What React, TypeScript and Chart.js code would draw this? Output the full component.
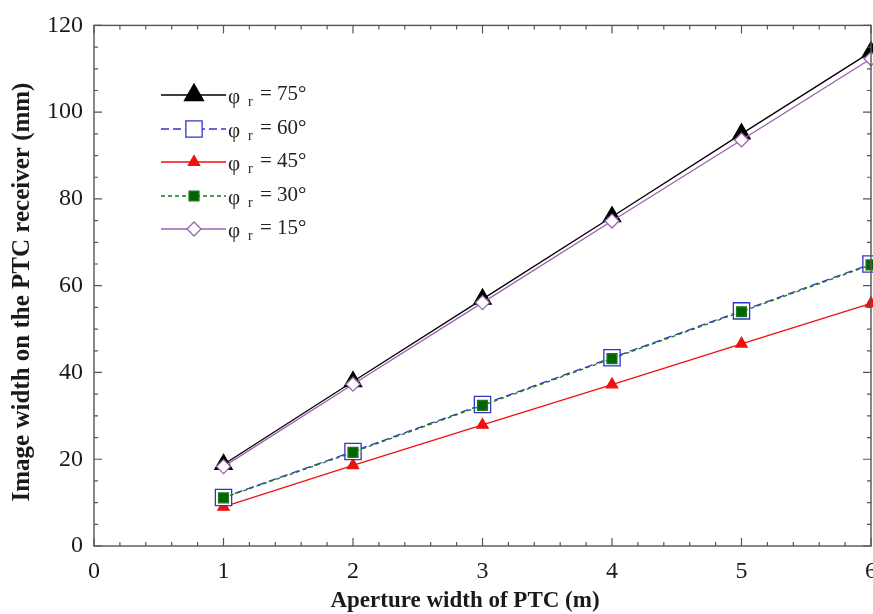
import React, { useEffect, useRef } from 'react';
import { Chart, registerables } from 'chart.js';

Chart.register(...registerables);

// ---- data ----
const xValues = [1, 2, 3, 4, 5, 6];
const seriesNames = ['75°', '60°', '45°', '30°', '15°'];
const phi75 = [18.8, 37.9, 56.9, 75.9, 95.0, 113.9];
const phi60 = [11.2, 21.8, 32.6, 43.4, 54.2, 65.0];
const phi45 = [9.0, 18.6, 27.9, 37.2, 46.6, 55.9];
const phi30 = [11.1, 21.6, 32.4, 43.2, 54.0, 64.8];
const phi15 = [18.3, 37.3, 56.1, 74.9, 93.6, 112.3];
const xTickLabels = ['0', '1', '2', '3', '4', '5', '6'];
const yTickLabels = ['0', '20', '40', '60', '80', '100', '120'];
const xTitle = 'Aperture width of PTC (m)';
const yTitle = 'Image width on the PTC receiver (mm)';

const CANVAS_W = 892;
const CANVAS_H = 614;
const SERIF = '"Liberation Serif", "Times New Roman", serif';

type Style = {
  color: string;
  dash: number[];
  marker: 'triangle' | 'rect' | 'rectRot';
  radius: number;
  fill: string;
  order: number;
};

const styles: Style[] = [
  { color: '#000000', dash: [], marker: 'triangle', radius: 10, fill: '#000000', order: 5 },
  { color: '#3434c8', dash: [8, 4], marker: 'rect', radius: 11.5, fill: '#ffffff', order: 4 },
  { color: '#f01010', dash: [], marker: 'triangle', radius: 6.5, fill: '#f01010', order: 6 },
  { color: '#1d7a1d', dash: [4, 3], marker: 'rect', radius: 7, fill: '#006400', order: 2 },
  { color: '#9a62ac', dash: [], marker: 'rectRot', radius: 7, fill: '#ffffff', order: 1 },
];

const seriesData = [phi75, phi60, phi45, phi30, phi15];

function drawMarker(
  ctx: CanvasRenderingContext2D,
  marker: string,
  x: number,
  y: number,
  r: number,
  fill: string,
  stroke: string
) {
  ctx.save();
  ctx.setLineDash([]);
  ctx.beginPath();
  if (marker === 'triangle') {
    ctx.moveTo(x, y - r);
    ctx.lineTo(x + r * 0.866, y + r * 0.5);
    ctx.lineTo(x - r * 0.866, y + r * 0.5);
    ctx.closePath();
  } else if (marker === 'rect') {
    const s = r * Math.SQRT1_2;
    ctx.rect(x - s, y - s, 2 * s, 2 * s);
  } else {
    ctx.moveTo(x, y - r);
    ctx.lineTo(x + r, y);
    ctx.lineTo(x, y + r);
    ctx.lineTo(x - r, y);
    ctx.closePath();
  }
  ctx.fillStyle = fill;
  ctx.fill();
  ctx.lineWidth = 1.3;
  ctx.strokeStyle = stroke;
  ctx.stroke();
  ctx.restore();
}

const framePlugin = {
  id: 'framePlugin',
  afterDraw(chart: any) {
    const { ctx, chartArea } = chart;
    const xs = chart.scales.x;
    const ys = chart.scales.y;
    const { left, right, top, bottom } = chartArea;
    ctx.save();
    ctx.strokeStyle = '#555555';
    ctx.lineWidth = 1.4;
    ctx.setLineDash([]);
    ctx.strokeRect(left, top, right - left, bottom - top);
    ctx.lineWidth = 1.2;
    // x ticks
    for (let i = 0; i <= 30; i++) {
      const v = i * 0.2;
      const px = xs.getPixelForValue(v);
      const len = i % 5 === 0 ? 8 : 4;
      ctx.beginPath();
      ctx.moveTo(px, bottom);
      ctx.lineTo(px, bottom - len);
      ctx.moveTo(px, top);
      ctx.lineTo(px, top + len);
      ctx.stroke();
    }
    // y ticks
    for (let i = 0; i <= 24; i++) {
      const v = i * 5;
      const py = ys.getPixelForValue(v);
      const len = i % 4 === 0 ? 8 : 4;
      ctx.beginPath();
      ctx.moveTo(left, py);
      ctx.lineTo(left + len, py);
      ctx.moveTo(right, py);
      ctx.lineTo(right - len, py);
      ctx.stroke();
    }

    // axis titles
    ctx.fillStyle = '#1a1a1a';
    ctx.font = `bold 23px ${SERIF}`;
    ctx.textAlign = 'center';
    ctx.textBaseline = 'middle';
    ctx.fillText(xTitle, 465, 601);
    ctx.save();
    ctx.translate(23, 292);
    ctx.rotate(-Math.PI / 2);
    ctx.font = `bold 25px ${SERIF}`;
    ctx.fillText(yTitle, 0, 0);
    ctx.restore();

    // legend
    const lx0 = 161;
    const lx1 = 226;
    const mx = 194;
    const rowY = [95, 129, 162, 196, 229];
    styles.forEach((st, i) => {
      const y = rowY[i];
      ctx.save();
      ctx.strokeStyle = st.color;
      ctx.lineWidth = 1.3;
      ctx.setLineDash(st.dash);
      ctx.beginPath();
      ctx.moveTo(lx0, y);
      ctx.lineTo(lx1, y);
      ctx.stroke();
      ctx.restore();
      const lr = i === 0 ? 11 : st.radius;
      drawMarker(ctx, st.marker, mx, y, lr, st.fill, st.color);
      ctx.fillStyle = '#222222';
      ctx.textAlign = 'left';
      ctx.textBaseline = 'alphabetic';
      ctx.font = `21px ${SERIF}`;
      ctx.fillText('φ', 228, y + 8);
      ctx.font = `14px ${SERIF}`;
      ctx.fillText('r', 248, y + 11);
      ctx.font = `21px ${SERIF}`;
      ctx.fillText('= ' + seriesNames[i], 260, y + 5);
    });
    ctx.restore();
  },
};

export default function App() {
  const canvasRef = useRef<HTMLCanvasElement | null>(null);

  useEffect(() => {
    const canvas = canvasRef.current;
    if (!canvas) return;
    const datasets = seriesData.map((data, i) => {
      const st = styles[i];
      return {
        label: seriesNames[i],
        data: data.map((y, j) => ({ x: xValues[j], y })),
        borderColor: st.color,
        backgroundColor: st.fill,
        borderWidth: 1.3,
        borderDash: st.dash,
        pointStyle: st.marker,
        pointRadius: st.radius,
        pointBackgroundColor: st.fill,
        pointBorderColor: st.color,
        pointBorderWidth: 1.3,
        tension: 0,
        fill: false,
        clip: false as any,
        order: st.order,
      };
    });

    const chart = new Chart(canvas, {
      type: 'line',
      data: { datasets },
      options: {
        animation: false,
        responsive: false,
        devicePixelRatio: 1,
        layout: { padding: { top: 21, right: 21, left: 0, bottom: 0 } },
        plugins: {
          legend: { display: false },
          tooltip: { enabled: false },
        },
        scales: {
          x: {
            type: 'linear',
            min: 0,
            max: 6,
            grid: { display: false, drawTicks: false },
            border: { display: false },
            ticks: {
              stepSize: 1,
              padding: 11,
              color: '#1a1a1a',
              font: { family: SERIF, size: 24 },
              callback: (v: any) => xTickLabels[Math.round(Number(v))] ?? '',
              maxRotation: 0,
            },
            afterFit: (s: any) => {
              s.height = 68;
            },
          },
          y: {
            type: 'linear',
            min: 0,
            max: 120,
            grid: { display: false, drawTicks: false },
            border: { display: false },
            ticks: {
              stepSize: 20,
              padding: 11,
              color: '#1a1a1a',
              font: { family: SERIF, size: 24 },
              callback: (v: any) => yTickLabels[Math.round(Number(v) / 20)] ?? '',
            },
            afterFit: (s: any) => {
              s.width = 94;
            },
          },
        },
      },
      plugins: [framePlugin],
    });
    return () => chart.destroy();
  }, []);

  return (
    <div
      style={{
        position: 'fixed',
        left: 0,
        top: 0,
        width: 873,
        height: 614,
        overflow: 'hidden',
        background: '#ffffff',
      }}
    >
      <canvas
        ref={canvasRef}
        width={CANVAS_W}
        height={CANVAS_H}
        style={{ width: CANVAS_W, height: CANVAS_H, display: 'block' }}
      />
    </div>
  );
}
